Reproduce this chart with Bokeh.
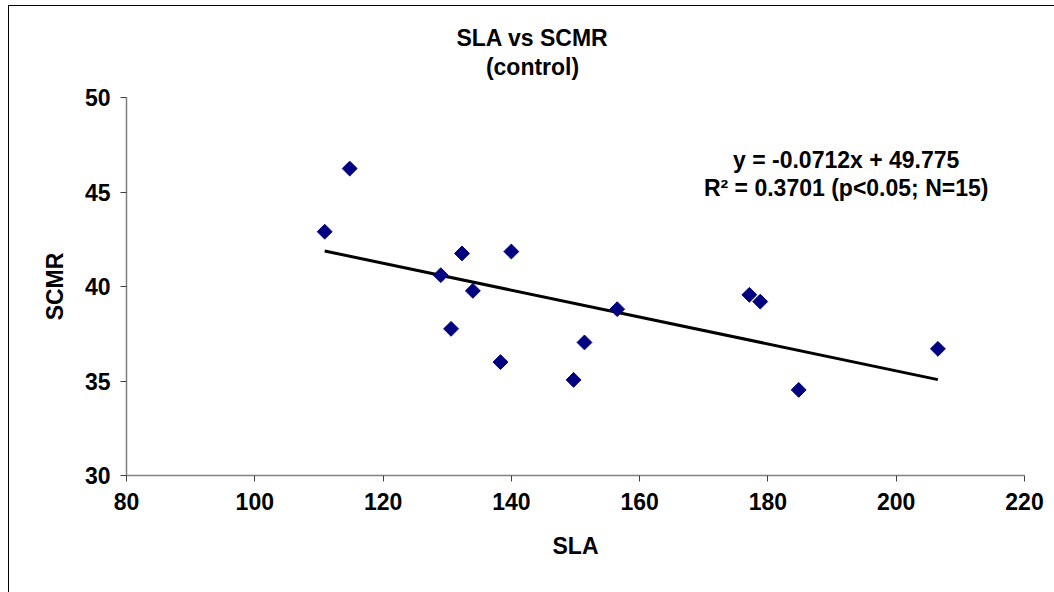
import numpy as np
from bokeh.plotting import figure
from bokeh.models import Label, Range1d, FixedTicker
from bokeh.embed import file_html
from bokeh.resources import INLINE

sla = [110.9, 114.8, 129.0, 130.6, 132.3, 134.0, 138.3, 140.0, 149.7, 151.4,
       156.5, 177.1, 178.8, 184.8, 206.5]
scmr = [42.9, 46.24, 40.6, 37.76, 41.75, 39.77, 36.0, 41.85, 35.06, 37.04,
        38.8, 39.56, 39.2, 34.53, 36.7]
slope = -0.0712
intercept = 49.775
x_ticks = [80, 100, 120, 140, 160, 180, 200, 220]
y_ticks = [30, 35, 40, 45, 50]
title_lines = ["SLA vs SCMR", "(control)"]
x_label = "SLA"
y_label = "SCMR"

FONT = "Liberation Sans"
FS = "23px"
TFS = "23px"

H = 587
BOTTOM = 118
TOP = 18
# axis spans 30..50 over 378 px; the frame extends above it to hold the title
y_top = 30 + (H - BOTTOM - TOP) * 20 / 378

p = figure(width=1046, height=H, output_backend="svg", toolbar_location=None,
           title=None,
           x_range=Range1d(80, 220), y_range=Range1d(30, y_top),
           min_border_left=117, min_border_right=31, min_border_top=TOP,
           min_border_bottom=BOTTOM)
p.styles = {"margin-left": "8px", "margin-top": "5px",
            "border-left": "1px solid black", "border-top": "1px solid black"}
p.outline_line_color = None
p.grid.visible = False
p.background_fill_color = "white"
p.border_fill_color = "white"

p.xaxis.ticker = FixedTicker(ticks=x_ticks)
p.yaxis.ticker = FixedTicker(ticks=y_ticks)
p.yaxis.bounds = (30, 50)
for ax in (p.xaxis[0], p.yaxis[0]):
    ax.axis_line_color = "#808080"
    ax.axis_line_width = 1.5
    ax.major_tick_line_color = "#404040"
    ax.major_tick_in = 0
    ax.major_tick_out = 6
    ax.minor_tick_line_color = None
    ax.major_label_text_font = FONT
    ax.major_label_text_font_style = "bold"
    ax.major_label_text_font_size = FS
    ax.major_label_text_color = "black"
    ax.axis_label_text_font = FONT
    ax.axis_label_text_font_style = "bold"
    ax.axis_label_text_font_size = FS
    ax.axis_label_text_color = "black"
p.xaxis.axis_label = x_label
p.xaxis.major_label_standoff = 11
p.yaxis.major_label_standoff = 10
p.xaxis.axis_label_standoff = 20

xs = np.array([min(sla), max(sla)])
p.line(xs, slope * xs + intercept, line_color="black", line_width=3)
p.scatter(sla, scmr, marker="square", angle=np.pi / 4, size=10.5,
          fill_color="#000080", line_color="#000080")

def lab(x, y, t):
    p.add_layout(Label(x=x, y=y, text=t, text_font=FONT, text_font_style="bold",
                       text_font_size=TFS, text_align="center",
                       text_baseline="middle", text_color="black"))

lab(192.2, 46.67, "y = -0.0712x + 49.775")
lab(192.2, 45.19, "R\u00b2 = 0.3701 (p<0.05; N=15)")
lab(143.3, 53.17, title_lines[0])
lab(143.3, 51.59, title_lines[1])

# y axis title in the left side panel, centred on the 30..50 part of the axis
p.add_layout(Label(x=44, y=40, x_units="canvas", y_units="data", text=y_label,
                   angle=np.pi / 2, text_font=FONT, text_font_style="bold",
                   text_font_size=FS, text_align="center",
                   text_baseline="middle", text_color="black"), "left")

open("out.html", "w").write(file_html(p, INLINE))
